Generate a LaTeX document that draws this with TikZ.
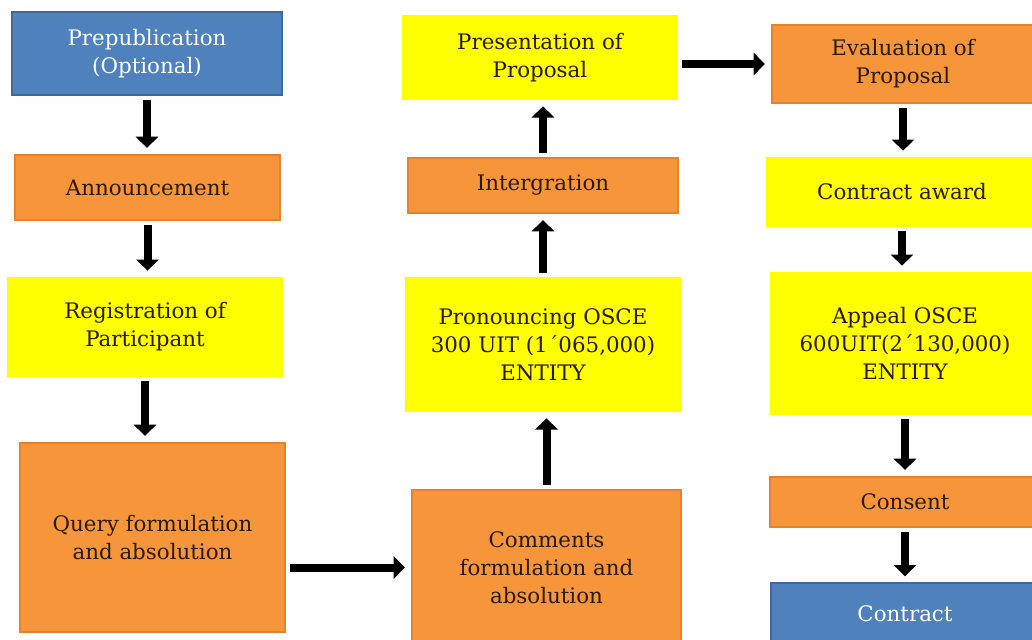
\documentclass[tikz,border=0pt]{standalone}
\usepackage{fontspec}
\setmainfont{DejaVu Serif}
\usetikzlibrary{arrows.meta}

\definecolor{boxblue}{HTML}{4F81BD}
\definecolor{boxblueedge}{HTML}{3C6A9E}
\definecolor{boxorange}{HTML}{F7953A}
\definecolor{boxorangeedge}{HTML}{E8812B}
\definecolor{boxyellow}{HTML}{FFFF00}
\definecolor{textbrown}{HTML}{2A1A0A}

\begin{document}
\begin{tikzpicture}[x=0.025cm, y=-0.025cm, >={Triangle[length=2.8mm,width=5.5mm]},
    block/.style = {rectangle, inner sep=0pt, align=center, font=\fontsize{15.2}{20}\selectfont, text=textbrown},
    blue block/.style = {block, fill=boxblue, draw=boxblueedge, line width=1pt, text=white},
    orange block/.style = {block, fill=boxorange, draw=boxorangeedge, line width=1.5pt},
    yellow block/.style = {block, fill=boxyellow},
    flow/.style = {->, line width=2mm, shorten <=1mm, shorten >=1.5mm},]
    \useasboundingbox (0,0) rectangle (1032,639);
    \clip (0,0) rectangle (1032,639);
    % left column
    \node [blue block, minimum width=6.75cm, minimum height=2.075cm] (prepub) at (147,53.5) {Prepublication\\(Optional)};
    \node [orange block, minimum width=6.625cm, minimum height=1.625cm] (announce) at (147.5,187.5) {Announcement};
    \node [yellow block, minimum width=6.9cm, minimum height=2.5cm] (register) at (145,327) {Registration of\\Participant};
    \node [orange block, minimum width=6.625cm, minimum height=4.725cm] (query) at (152.5,537.5) {Query formulation\\and absolution};
    % middle column
    \node [orange block, minimum width=6.725cm, minimum height=3.875cm] (comments) at (546.5,567.5) {Comments\\formulation and\\absolution};
    \node [yellow block, minimum width=6.9cm, minimum height=3.375cm] (pronounce) at (543,344.5) {Pronouncing OSCE\\300 UIT (1´065,000)\\ENTITY};
    \node [orange block, minimum width=6.75cm, minimum height=1.375cm] (integr) at (543,185.5) {Intergration};
    \node [yellow block, minimum width=6.9cm, minimum height=2.125cm] (present) at (540,57.5) {Presentation of\\Proposal};
    % right column
    \node [orange block, minimum width=6.55cm, minimum height=1.95cm] (eval) at (903,64) {Evaluation of\\Proposal};
    \node [yellow block, minimum width=6.8cm, minimum height=1.75cm] (award) at (902,192) {Contract award};
    \node [yellow block, minimum width=6.75cm, minimum height=3.575cm] (appeal) at (905,343.5) {Appeal OSCE\\600UIT(2´130,000)\\ENTITY};
    \node [orange block, minimum width=6.75cm, minimum height=1.25cm] (consent) at (905,502) {Consent};
    \node [blue block, minimum width=6.7cm, minimum height=1.55cm] (contract) at (905,614) {Contract};
    % arrows
    \draw [flow] (prepub.south) -- (prepub.south |- announce.north);
    \draw [flow] (announce.south) -- (announce.south |- register.north);
    \draw [flow] (register.south) -- (register.south |- query.north);
    \draw [flow] (query.east |- comments.west) -- (comments.west);
    \draw [flow] (comments.north) -- (comments.north |- pronounce.south);
    \draw [flow] (pronounce.north) -- (pronounce.north |- integr.south);
    \draw [flow] (integr.north) -- (integr.north |- present.south);
    \draw [flow] (present.east |- eval.west) -- (eval.west);
    \draw [flow] (eval.south) -- (eval.south |- award.north);
    \draw [flow] (award.south) -- (award.south |- appeal.north);
    \draw [flow] (appeal.south) -- (appeal.south |- consent.north);
    \draw [flow] (consent.south) -- (consent.south |- contract.north);
\end{tikzpicture}
\end{document}
